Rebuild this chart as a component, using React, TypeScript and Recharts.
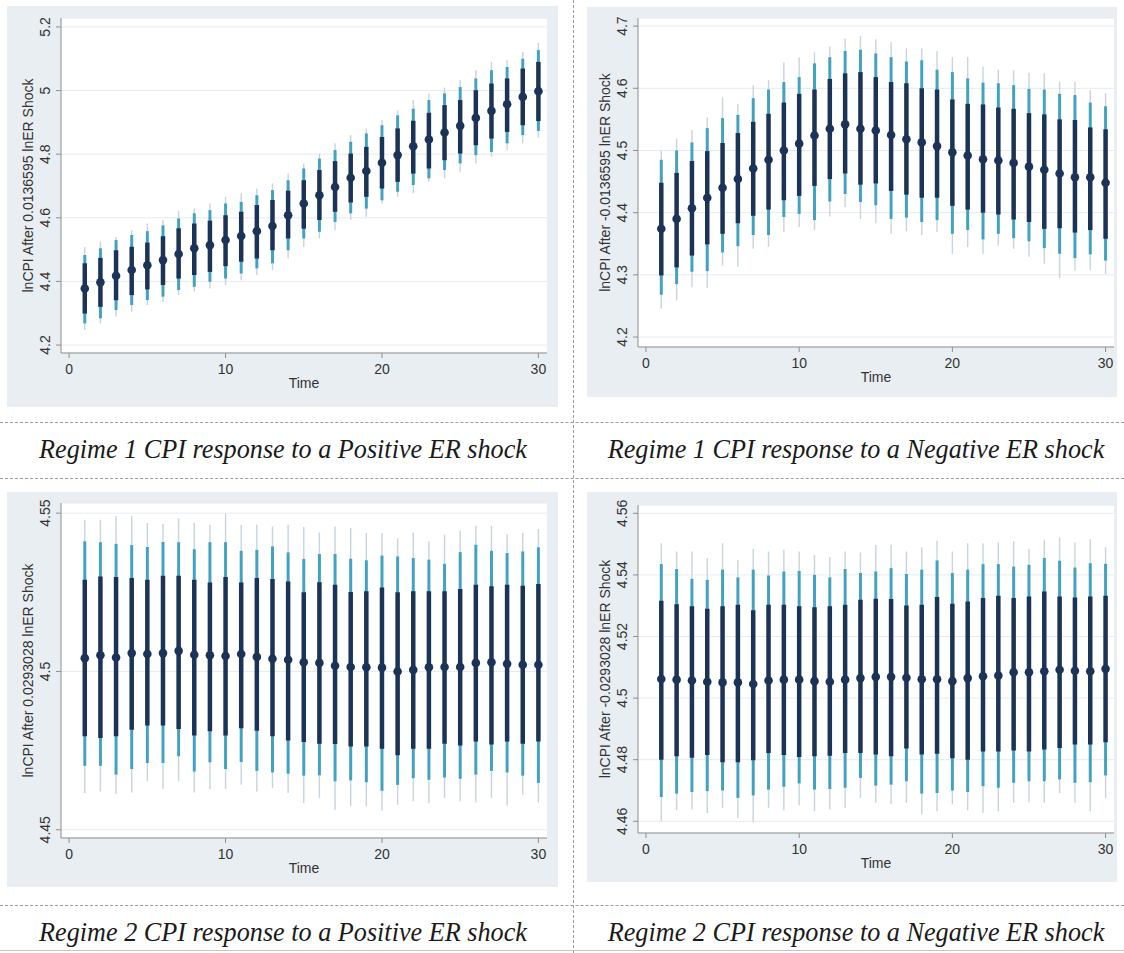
import React from "react";
import { ComposedChart, Scatter, ErrorBar, XAxis, YAxis, CartesianGrid, Label } from "recharts";

const time = [1, 2, 3, 4, 5, 6, 7, 8, 9, 10, 11, 12, 13, 14, 15, 16, 17, 18, 19, 20, 21, 22, 23, 24, 25, 26, 27, 28, 29, 30];
const xTicks = [0, 10, 20, 30];

// Regime 1, positive shock
const r1PosMid = [4.378, 4.397, 4.418, 4.436, 4.451, 4.467, 4.486, 4.504, 4.514, 4.53, 4.543, 4.558, 4.574, 4.608, 4.645, 4.671, 4.697, 4.726, 4.747, 4.773, 4.797, 4.825, 4.846, 4.868, 4.889, 4.914, 4.936, 4.957, 4.98, 4.998];
const r1PosInHi = [4.457, 4.474, 4.498, 4.509, 4.522, 4.542, 4.567, 4.582, 4.591, 4.608, 4.619, 4.64, 4.656, 4.685, 4.718, 4.75, 4.778, 4.802, 4.823, 4.854, 4.881, 4.905, 4.93, 4.954, 4.97, 5.001, 5.022, 5.038, 5.069, 5.09];
const r1PosInLo = [4.299, 4.32, 4.341, 4.357, 4.375, 4.389, 4.409, 4.42, 4.43, 4.448, 4.462, 4.472, 4.498, 4.535, 4.566, 4.593, 4.619, 4.648, 4.666, 4.692, 4.713, 4.739, 4.755, 4.781, 4.802, 4.828, 4.849, 4.87, 4.891, 4.904];
const r1PosMidHi = [4.483, 4.504, 4.53, 4.546, 4.558, 4.576, 4.598, 4.614, 4.624, 4.645, 4.65, 4.671, 4.687, 4.718, 4.755, 4.786, 4.813, 4.839, 4.865, 4.891, 4.922, 4.943, 4.97, 4.991, 5.011, 5.038, 5.064, 5.074, 5.1, 5.127];
const r1PosMidLo = [4.268, 4.284, 4.31, 4.326, 4.341, 4.352, 4.373, 4.383, 4.399, 4.409, 4.425, 4.441, 4.457, 4.498, 4.535, 4.556, 4.587, 4.614, 4.629, 4.655, 4.682, 4.703, 4.724, 4.75, 4.771, 4.797, 4.807, 4.834, 4.86, 4.873];
const r1PosOutHi = [4.509, 4.525, 4.54, 4.561, 4.582, 4.593, 4.622, 4.629, 4.645, 4.666, 4.677, 4.692, 4.708, 4.739, 4.771, 4.802, 4.834, 4.86, 4.881, 4.907, 4.938, 4.97, 4.991, 5.009, 5.033, 5.064, 5.09, 5.095, 5.121, 5.15];
const r1PosOutLo = [4.247, 4.268, 4.289, 4.305, 4.326, 4.336, 4.357, 4.368, 4.378, 4.388, 4.404, 4.42, 4.436, 4.472, 4.509, 4.535, 4.561, 4.593, 4.603, 4.645, 4.666, 4.677, 4.713, 4.724, 4.745, 4.771, 4.792, 4.813, 4.834, 4.852];

// Regime 1, negative shock
const r1NegMid = [4.374, 4.39, 4.407, 4.424, 4.44, 4.454, 4.471, 4.485, 4.5, 4.511, 4.524, 4.535, 4.542, 4.535, 4.532, 4.525, 4.518, 4.513, 4.507, 4.497, 4.492, 4.486, 4.484, 4.48, 4.474, 4.469, 4.463, 4.457, 4.457, 4.448];
const r1NegInHi = [4.448, 4.464, 4.483, 4.499, 4.512, 4.528, 4.546, 4.559, 4.577, 4.591, 4.598, 4.615, 4.624, 4.626, 4.618, 4.61, 4.608, 4.6, 4.598, 4.582, 4.575, 4.574, 4.569, 4.567, 4.56, 4.558, 4.55, 4.549, 4.537, 4.534];
const r1NegInLo = [4.299, 4.312, 4.331, 4.349, 4.366, 4.383, 4.395, 4.405, 4.42, 4.427, 4.443, 4.454, 4.463, 4.445, 4.447, 4.435, 4.429, 4.424, 4.424, 4.411, 4.405, 4.4, 4.397, 4.389, 4.385, 4.374, 4.375, 4.368, 4.372, 4.358];
const r1NegMidHi = [4.485, 4.5, 4.513, 4.536, 4.552, 4.557, 4.584, 4.598, 4.61, 4.618, 4.64, 4.65, 4.66, 4.662, 4.656, 4.65, 4.643, 4.645, 4.63, 4.626, 4.616, 4.609, 4.608, 4.605, 4.599, 4.598, 4.591, 4.589, 4.577, 4.571];
const r1NegMidLo = [4.268, 4.285, 4.305, 4.306, 4.336, 4.346, 4.364, 4.364, 4.393, 4.398, 4.388, 4.418, 4.43, 4.417, 4.412, 4.39, 4.392, 4.385, 4.388, 4.366, 4.372, 4.357, 4.366, 4.359, 4.354, 4.343, 4.334, 4.327, 4.333, 4.323];
const r1NegOutHi = [4.5, 4.519, 4.533, 4.553, 4.585, 4.575, 4.605, 4.613, 4.642, 4.65, 4.658, 4.667, 4.68, 4.684, 4.679, 4.675, 4.664, 4.664, 4.66, 4.65, 4.65, 4.635, 4.63, 4.629, 4.625, 4.624, 4.61, 4.61, 4.597, 4.592];
const r1NegOutLo = [4.246, 4.259, 4.28, 4.279, 4.315, 4.313, 4.342, 4.345, 4.369, 4.377, 4.372, 4.394, 4.409, 4.39, 4.383, 4.366, 4.37, 4.364, 4.369, 4.334, 4.345, 4.334, 4.347, 4.342, 4.329, 4.318, 4.295, 4.307, 4.308, 4.301];

// Regime 2, positive shock
const r2PosMid = [4.5042, 4.5051, 4.5044, 4.5058, 4.5055, 4.5058, 4.5065, 4.5053, 4.5051, 4.5049, 4.5055, 4.5046, 4.504, 4.5037, 4.5029, 4.5027, 4.5018, 4.5014, 4.5013, 4.5012, 4.5, 4.5005, 4.5013, 4.5014, 4.5014, 4.5027, 4.5029, 4.5024, 4.5021, 4.5021];
const r2PosInHi = [4.529, 4.53, 4.5298, 4.5295, 4.529, 4.5302, 4.5302, 4.529, 4.5281, 4.5298, 4.5281, 4.5295, 4.5292, 4.5284, 4.525, 4.5282, 4.5274, 4.5251, 4.5253, 4.5265, 4.525, 4.5253, 4.5253, 4.5253, 4.526, 4.5274, 4.5269, 4.5274, 4.5271, 4.5276];
const r2PosInLo = [4.4795, 4.479, 4.4795, 4.4816, 4.4829, 4.4829, 4.4818, 4.4798, 4.4811, 4.4798, 4.4821, 4.4813, 4.4795, 4.4782, 4.4777, 4.4772, 4.4771, 4.4763, 4.4763, 4.4756, 4.4735, 4.4756, 4.4756, 4.4772, 4.4766, 4.4779, 4.4769, 4.4779, 4.4772, 4.4779];
const r2PosMidHi = [4.5411, 4.5408, 4.5403, 4.5399, 4.5393, 4.5409, 4.5408, 4.5386, 4.5408, 4.5408, 4.5381, 4.5384, 4.5395, 4.5376, 4.5355, 4.5371, 4.5371, 4.5356, 4.5351, 4.5366, 4.5363, 4.5358, 4.5353, 4.534, 4.5377, 4.54, 4.5381, 4.5374, 4.5379, 4.5392];
const r2PosMidLo = [4.4702, 4.4702, 4.4674, 4.4692, 4.4711, 4.4711, 4.4732, 4.4684, 4.4713, 4.4692, 4.4714, 4.4686, 4.4681, 4.4677, 4.4671, 4.4672, 4.4653, 4.4656, 4.465, 4.4623, 4.4642, 4.4663, 4.4658, 4.4665, 4.4661, 4.4674, 4.4686, 4.4681, 4.4671, 4.4648];
const r2PosOutHi = [4.5479, 4.5479, 4.549, 4.549, 4.5469, 4.5466, 4.5484, 4.5469, 4.5463, 4.55, 4.5463, 4.5463, 4.5458, 4.5463, 4.5456, 4.5439, 4.5458, 4.5453, 4.5437, 4.5437, 4.5421, 4.5439, 4.5411, 4.5432, 4.5444, 4.546, 4.546, 4.5434, 4.5437, 4.545];
const r2PosOutLo = [4.4616, 4.4621, 4.4614, 4.4618, 4.4653, 4.4629, 4.4653, 4.4618, 4.4629, 4.4629, 4.4642, 4.4621, 4.4632, 4.4616, 4.4584, 4.46, 4.4563, 4.4574, 4.4574, 4.4561, 4.4579, 4.459, 4.4584, 4.46, 4.459, 4.4586, 4.46, 4.4576, 4.4611, 4.4586];

// Regime 2, negative shock
const r2NegMid = [4.5062, 4.506, 4.5057, 4.5053, 4.5051, 4.5051, 4.5046, 4.5057, 4.506, 4.506, 4.5055, 4.5053, 4.506, 4.5065, 4.5069, 4.5069, 4.5066, 4.5061, 4.5061, 4.5055, 4.5065, 4.5071, 4.5073, 4.5084, 4.5084, 4.5087, 4.5092, 4.5089, 4.5087, 4.5095];
const r2NegInHi = [4.5316, 4.5305, 4.5298, 4.529, 4.5298, 4.5303, 4.5285, 4.5303, 4.5303, 4.5298, 4.5295, 4.5298, 4.5303, 4.5319, 4.5323, 4.5322, 4.5301, 4.5303, 4.5328, 4.5306, 4.5314, 4.5325, 4.5332, 4.5325, 4.533, 4.5346, 4.533, 4.5327, 4.533, 4.5332];
const r2NegInLo = [4.48, 4.4811, 4.4806, 4.4815, 4.4792, 4.4792, 4.4798, 4.4822, 4.4815, 4.4809, 4.4811, 4.4813, 4.4822, 4.4822, 4.4817, 4.4811, 4.4836, 4.4817, 4.4819, 4.4805, 4.48, 4.4827, 4.4827, 4.483, 4.4827, 4.4833, 4.4838, 4.4849, 4.4849, 4.4857];
const r2NegMidHi = [4.5435, 4.5419, 4.5387, 4.5384, 4.5417, 4.5392, 4.5417, 4.5398, 4.5411, 4.5413, 4.54, 4.5392, 4.5419, 4.5406, 4.5411, 4.5422, 4.5403, 4.5417, 4.5447, 4.5406, 4.5417, 4.5435, 4.5435, 4.5427, 4.5433, 4.5455, 4.5446, 4.5424, 4.5438, 4.5436];
const r2NegMidLo = [4.4679, 4.469, 4.4695, 4.4698, 4.47, 4.4676, 4.4684, 4.4703, 4.4712, 4.4723, 4.4703, 4.4705, 4.4709, 4.4741, 4.4716, 4.4719, 4.473, 4.469, 4.4692, 4.47, 4.4695, 4.4714, 4.4709, 4.4725, 4.473, 4.473, 4.4736, 4.4725, 4.4727, 4.4749];
const r2NegOutHi = [4.5503, 4.5476, 4.5476, 4.5455, 4.5503, 4.5449, 4.5484, 4.5476, 4.5482, 4.5476, 4.5465, 4.5458, 4.5476, 4.5473, 4.5497, 4.5498, 4.5476, 4.549, 4.5511, 4.5476, 4.5503, 4.5503, 4.5505, 4.5509, 4.5484, 4.5514, 4.5522, 4.5505, 4.5516, 4.549];
const r2NegOutLo = [4.46, 4.4636, 4.4638, 4.4627, 4.4644, 4.4611, 4.4597, 4.4644, 4.4636, 4.4652, 4.4633, 4.4638, 4.4644, 4.4676, 4.466, 4.4655, 4.466, 4.4622, 4.4633, 4.4655, 4.4636, 4.4627, 4.4633, 4.466, 4.4662, 4.466, 4.4692, 4.466, 4.4633, 4.4676];

const DARK = "#1b3357";
const TEAL = "#43a2c0";
const LIGHT = "#c7d4dd";
const AXIS = "#8e8e8e";
const BG = "#e8eef1";
const FONT = "'Liberation Sans', Arial, sans-serif";

const buildRows = (mid: number[], inLo: number[], inHi: number[], mLo: number[], mHi: number[], oLo: number[], oHi: number[]) =>
    time.map((t, i) => ({
        t,
        mid: mid[i],
        inner: [mid[i] - inLo[i], inHi[i] - mid[i]],
        middle: [mid[i] - mLo[i], mHi[i] - mid[i]],
        outer: [mid[i] - oLo[i], oHi[i] - mid[i]],
    }));

const YTick = (props: any) => {
    const { x, y, payload } = props;
    return (
        <text x={x} y={y} transform={`rotate(-90 ${x} ${y})`} textAnchor="middle" fontSize={14} fill="#333" fontFamily={FONT}>
            {String(payload.value)}
        </text>
    );
};

const Dot = (props: any) => <circle cx={props.cx} cy={props.cy} r={4.3} fill={DARK} />;

interface PanelProps {
    left: number;
    top: number;
    width: number;
    height: number;
    margin: { top: number; right: number; bottom: number; left: number };
    yWidth: number;
    xHeight: number;
    domain: [number, number];
    ticks: number[];
    title: string;
    rows: any[];
}

const Panel: React.FC<PanelProps> = ({ left, top, width, height, margin, yWidth, xHeight, domain, ticks, title, rows }) => (
    <div style={{ position: "absolute", left, top, width, height, background: BG }}>
        <ComposedChart width={width} height={height} data={rows} margin={margin}>
            <CartesianGrid vertical={false} stroke="#e7ebee" fill="#ffffff" />
            <XAxis
                dataKey="t"
                type="number"
                domain={[-0.52, 30.55]}
                allowDataOverflow
                ticks={xTicks}
                height={xHeight}
                stroke={AXIS}
                tickSize={5}
                tickMargin={6}
                tick={{ fill: "#333", fontSize: 14, fontFamily: FONT }}
            >
                <Label
                    content={(p: any) => {
                        const vb = p.viewBox;
                        return (
                            <text x={vb.x + vb.width / 2} y={vb.y + 30} textAnchor="middle" dominantBaseline="central" fontSize={14} fill="#333" fontFamily={FONT}>
                                Time
                            </text>
                        );
                    }}
                />
            </XAxis>
            <YAxis
                type="number"
                domain={domain}
                allowDataOverflow
                ticks={ticks}
                width={yWidth}
                stroke={AXIS}
                tickSize={5}
                tickMargin={6}
                tick={<YTick />}
            >
                <Label
                    content={(p: any) => {
                        const vb = p.viewBox;
                        const cx = vb.x + vb.width - 33;
                        const cy = vb.y + vb.height / 2;
                        return (
                            <text x={cx} y={cy} transform={`rotate(-90 ${cx} ${cy})`} textAnchor="middle" dominantBaseline="central" fontSize={14} fill="#333" fontFamily={FONT}>
                                {title}
                            </text>
                        );
                    }}
                />
            </YAxis>
            <Scatter dataKey="mid" shape={<Dot />} isAnimationActive={false}>
                <ErrorBar dataKey="outer" direction="y" width={0} stroke={LIGHT} strokeWidth={1.4} isAnimationActive={false} />
                <ErrorBar dataKey="middle" direction="y" width={0} stroke={TEAL} strokeWidth={3} isAnimationActive={false} />
                <ErrorBar dataKey="inner" direction="y" width={0} stroke={DARK} strokeWidth={4.5} isAnimationActive={false} />
            </Scatter>
        </ComposedChart>
    </div>
);

const captionStyle: React.CSSProperties = {
    position: "absolute",
    width: 560,
    textAlign: "center",
    fontFamily: "'Liberation Serif', 'Times New Roman', serif",
    fontStyle: "italic",
    fontSize: 27,
    color: "#1a1a1a",
    lineHeight: "30px",
    transform: "scaleX(0.97)",
    transformOrigin: "center",
};

const hDash = (top: number): React.CSSProperties => ({
    position: "absolute",
    left: 0,
    top,
    width: 1124,
    height: 0,
    borderTop: "1px dashed #9c9c9c",
});

export default function App() {
    return (
        <div style={{ position: "absolute", left: 0, top: 0, width: 1124, height: 953, background: "#fff", overflow: "hidden" }}>
            <Panel
                left={7}
                top={6}
                width={551}
                height={401}
                margin={{ top: 12, right: 11, bottom: 10, left: 0 }}
                yWidth={54}
                xHeight={44}
                domain={[4.175, 5.228]}
                ticks={[4.2, 4.4, 4.6, 4.8, 5, 5.2]}
                title="lnCPI After 0.0136595 lnER Shock"
                rows={buildRows(r1PosMid, r1PosInLo, r1PosInHi, r1PosMidLo, r1PosMidHi, r1PosOutLo, r1PosOutHi)}
            />
            <Panel
                left={587}
                top={7}
                width={530}
                height={390}
                margin={{ top: 11, right: 3, bottom: 10, left: 0 }}
                yWidth={51}
                xHeight={40}
                domain={[4.184, 4.713]}
                ticks={[4.2, 4.3, 4.4, 4.5, 4.6, 4.7]}
                title="lnCPI After -0.0136595 lnER Shock"
                rows={buildRows(r1NegMid, r1NegInLo, r1NegInHi, r1NegMidLo, r1NegMidHi, r1NegOutLo, r1NegOutHi)}
            />
            <Panel
                left={7}
                top={492}
                width={551}
                height={395}
                margin={{ top: 11, right: 11, bottom: 10, left: 0 }}
                yWidth={54}
                xHeight={39}
                domain={[4.4474, 4.5532]}
                ticks={[4.45, 4.5, 4.55]}
                title="lnCPI After 0.0293028 lnER Shock"
                rows={buildRows(r2PosMid, r2PosInLo, r2PosInHi, r2PosMidLo, r2PosMidHi, r2PosOutLo, r2PosOutHi)}
            />
            <Panel
                left={587}
                top={492}
                width={530}
                height={390}
                margin={{ top: 13, right: 3, bottom: 10, left: 0 }}
                yWidth={51}
                xHeight={39}
                domain={[4.4562, 4.5627]}
                ticks={[4.46, 4.48, 4.5, 4.52, 4.54, 4.56]}
                title="lnCPI After -0.0293028 lnER Shock"
                rows={buildRows(r2NegMid, r2NegInLo, r2NegInHi, r2NegMidLo, r2NegMidHi, r2NegOutLo, r2NegOutHi)}
            />

            <div style={hDash(422)} />
            <div style={hDash(478)} />
            <div style={hDash(905)} />
            <div style={{ position: "absolute", left: 573, top: 0, width: 0, height: 953, borderLeft: "1px dashed #9c9c9c" }} />
            <div style={{ position: "absolute", left: 0, top: 950, width: 1124, height: 0, borderTop: "1px solid #c4c4c4" }} />

            <div style={{ ...captionStyle, left: 3, top: 434 }}>Regime 1 CPI response to a Positive ER shock</div>
            <div style={{ ...captionStyle, left: 576, top: 434 }}>Regime 1 CPI response to a Negative ER shock</div>
            <div style={{ ...captionStyle, left: 3, top: 917 }}>Regime 2 CPI response to a Positive ER shock</div>
            <div style={{ ...captionStyle, left: 576, top: 917 }}>Regime 2 CPI response to a Negative ER shock</div>
        </div>
    );
}
